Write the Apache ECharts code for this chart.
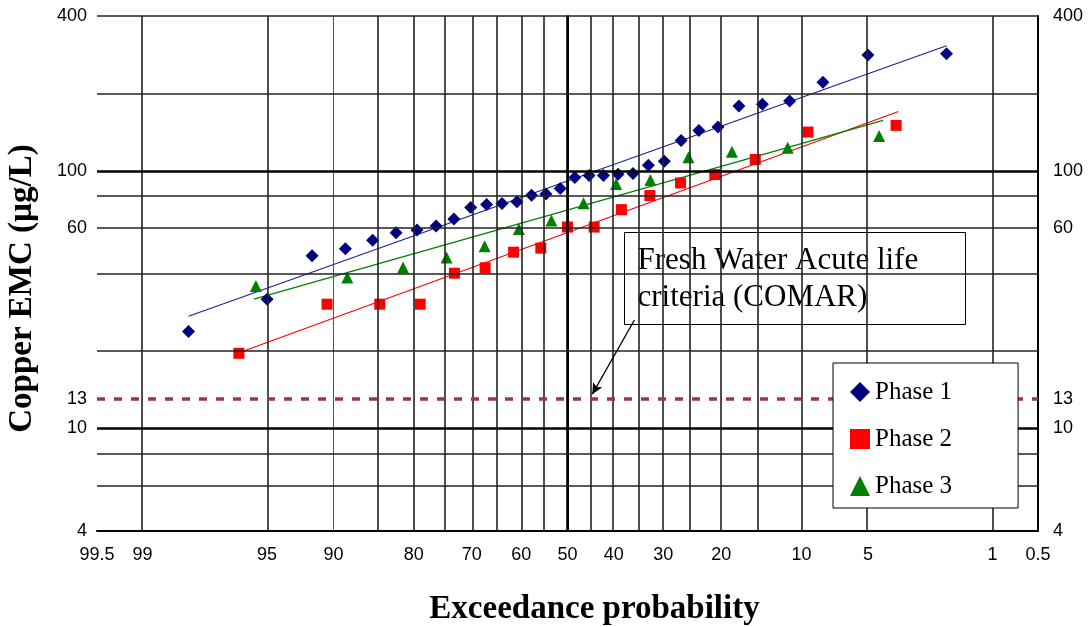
<!DOCTYPE html>
<html>
<head>
<meta charset="utf-8">
<script src="https://cdn.jsdelivr.net/npm/echarts@6/dist/echarts.min.js"></script>
<style>
html, body { margin: 0; padding: 0; background: #fff; }
#chart { width: 1090px; height: 627px; }
</style>
</head>
<body>
<div id="chart"></div>
<script>
// Exceedance probability (%) and copper EMC (µg/L) for each monitoring phase
const phase1Exceed = [98.1, 95.0, 91.9, 88.8, 85.7, 82.6, 79.5, 76.4, 73.3, 70.2, 67.1, 64.0, 60.9, 57.8, 54.7, 51.6,
                      48.4, 45.3, 42.2, 39.1, 36.0, 32.9, 29.8, 26.7, 23.6, 20.5, 17.4, 14.3, 11.2, 8.1, 5.0, 1.9];
const phase1Copper = [23.8, 31.8, 46.9, 49.9, 53.9, 57.6, 59.0, 61.1, 65.1, 72.1, 74.2, 74.8, 75.9, 80.5, 81.5, 85.5,
                      94.3, 96.0, 96.0, 97.2, 97.8, 105.2, 109.1, 131.3, 143.8, 148.2, 178.9, 181.6, 187.1, 221.3, 282.0, 285.4];

const phase2Exceed = [96.4, 90.6, 84.8, 79.0, 73.2, 67.4, 61.6, 55.8, 50.0, 44.2, 38.4, 32.6, 26.8, 21.0, 15.2, 9.4, 3.6];
const phase2Copper = [19.6, 30.4, 30.4, 30.4, 40.1, 42.1, 48.4, 50.2, 60.6, 60.6, 70.8, 80.3, 89.9, 96.9, 110.9, 141.7, 150.4];

const phase3Exceed = [95.6, 88.6, 81.6, 74.6, 67.5, 60.5, 53.5, 46.5, 39.5, 32.5, 25.4, 18.4, 11.4, 4.4];
const phase3Copper = [35.8, 38.6, 42.2, 46.2, 51.0, 59.6, 64.2, 75.0, 89.0, 92.2, 113.1, 118.9, 123.2, 136.7];

// Fitted log-normal lines (end points)
const phase1FitExceed = [98.1, 1.9];
const phase1FitCopper = [27.3, 306.6];
const phase2FitExceed = [96.4, 3.5];
const phase2FitCopper = [19.7, 170.2];
const phase3FitExceed = [95.7, 4.2];
const phase3FitCopper = [31.8, 157.3];

// Fresh water acute life criterion (µg/L)
const criteria = 13;

// Axis ticks and grid
const xTickLabels = ['99.5', '99', '95', '90', '80', '70', '60', '50', '40', '30', '20', '10', '5', '1', '0.5'];
const xGridPct = [99, 95, 85, 80, 75, 70, 65, 60, 55, 45, 40, 35, 30, 25, 20, 15, 10, 5, 1];
const xThinGridPct = [90];
const xBoldGridPct = [50];
const yTickLabels = [4, 10, 13, 60, 100, 400];
const yGridValues = [400, 200, 80, 60, 40, 20, 8, 6];
const yBoldGridValues = [100, 10];

// Inverse of the standard normal CDF (Acklam's rational approximation)
function probit(p) {
  const a = [-3.969683028665376e+01, 2.209460984245205e+02, -2.759285104469687e+02, 1.383577518672690e+02, -3.066479806614716e+01, 2.506628277459239e+00];
  const b = [-5.447609879822406e+01, 1.615858368580409e+02, -1.556989798598866e+02, 6.680131188771972e+01, -1.328068155288572e+01];
  const c = [-7.784894002430293e-03, -3.223964580411365e-01, -2.400758277161838e+00, -2.549732539343734e+00, 4.374664141464968e+00, 2.938163982698783e+00];
  const d = [7.784695709041462e-03, 3.224671290700398e-01, 2.445134137142996e+00, 3.754408661907416e+00];
  const pl = 0.02425, ph = 1 - pl;
  let q, r;
  if (p < pl) {
    q = Math.sqrt(-2 * Math.log(p));
    return (((((c[0] * q + c[1]) * q + c[2]) * q + c[3]) * q + c[4]) * q + c[5]) / ((((d[0] * q + d[1]) * q + d[2]) * q + d[3]) * q + 1);
  }
  if (p <= ph) {
    q = p - 0.5; r = q * q;
    return (((((a[0] * r + a[1]) * r + a[2]) * r + a[3]) * r + a[4]) * r + a[5]) * q / (((((b[0] * r + b[1]) * r + b[2]) * r + b[3]) * r + b[4]) * r + 1);
  }
  q = Math.sqrt(-2 * Math.log(1 - p));
  return -(((((c[0] * q + c[1]) * q + c[2]) * q + c[3]) * q + c[4]) * q + c[5]) / ((((d[0] * q + d[1]) * q + d[2]) * q + d[3]) * q + 1);
}
// Position on the normal-probability axis for an exceedance percentage
const toZ = e => probit(1 - e / 100);

const xTickZ = xTickLabels.map(s => toZ(parseFloat(s)));
const zMin = xTickZ[0];
const zMax = xTickZ[xTickZ.length - 1];

const pairs = (xs, ys) => xs.map((e, i) => [toZ(e), ys[i]]);

const gridLine = { color: '#222', width: 1.6, type: 'solid' };
const gridMarks = []
  .concat(xGridPct.map(p => ({ xAxis: toZ(p), lineStyle: gridLine })))
  .concat(xThinGridPct.map(p => ({ xAxis: toZ(p), lineStyle: { color: '#555', width: 1, type: 'solid' } })))
  .concat(xBoldGridPct.map(p => ({ xAxis: toZ(p), lineStyle: { color: '#000', width: 2.6, type: 'solid' } })))
  .concat(yGridValues.map(v => ({ yAxis: v, lineStyle: gridLine })))
  .concat(yBoldGridValues.map(v => ({ yAxis: v, lineStyle: { color: '#000', width: 2.6, type: 'solid' } })));

const tickFont = { fontFamily: 'Liberation Sans', fontSize: 18, color: '#000' };
const titleFont = { fontFamily: 'Liberation Serif', fontWeight: 'bold', fontSize: 33, color: '#000' };

const yAxisBase = {
  type: 'log', logBase: 10, min: 4, max: 400,
  axisLine: { show: true, lineStyle: { color: '#000', width: 2 } },
  axisTick: { show: false },
  splitLine: { show: false },
  minorTick: { show: false }
};

const chart = echarts.init(document.getElementById('chart'), null, { renderer: 'canvas' });

chart.setOption({
  animation: false,
  backgroundColor: '#fff',
  grid: { left: 97, right: 52, top: 16, bottom: 96, containLabel: false, outerBoundsMode: 'none' },
  xAxis: {
    type: 'value', min: zMin, max: zMax,
    axisLine: { show: true, onZero: false, lineStyle: { color: '#000', width: 2 } },
    axisTick: { show: false },
    splitLine: { show: false },
    axisLabel: Object.assign({
      customValues: xTickZ,
      margin: 15,
      formatter: v => {
        let best = 0;
        xTickZ.forEach((z, i) => { if (Math.abs(z - v) < Math.abs(xTickZ[best] - v)) best = i; });
        return xTickLabels[best];
      }
    }, tickFont),
    name: 'Exceedance probability',
    nameLocation: 'middle',
    nameGap: 62,
    nameTextStyle: Object.assign({ padding: [0, 0, 0, 54] }, titleFont)
  },
  yAxis: [
    Object.assign({}, yAxisBase, {
      position: 'left',
      axisLabel: Object.assign({ customValues: yTickLabels, margin: 10 }, tickFont),
      name: 'Copper EMC (µg/L)',
      nameLocation: 'middle',
      nameGap: 58,
      nameTextStyle: Object.assign({ padding: [0, 30, 0, 0] }, titleFont)
    }),
    Object.assign({}, yAxisBase, {
      position: 'right',
      axisLabel: Object.assign({ customValues: yTickLabels, margin: 15 }, tickFont)
    })
  ],
  legend: {
    data: ['Phase 1', 'Phase 2', 'Phase 3'],
    orient: 'vertical',
    left: 833, top: 363,
    padding: [16, 66, 9, 17],
    itemGap: 21,
    itemWidth: 20, itemHeight: 20,
    backgroundColor: '#fff',
    borderColor: '#000', borderWidth: 1, borderRadius: 0,
    textStyle: { fontFamily: 'Liberation Serif', fontSize: 25, color: '#000', lineHeight: 26 },
    selectedMode: false,
    z: 6
  },
  graphic: [{
    type: 'group', left: 624, top: 232, z: 20,
    children: [
      { type: 'rect', shape: { x: 0, y: 0, width: 341, height: 92 },
        style: { fill: '#fff', stroke: '#000', lineWidth: 1 } },
      { type: 'text', x: 13, y: 10,
        style: { text: 'Fresh Water Acute life\ncriteria (COMAR)', fill: '#000',
                 font: '31px "Liberation Serif"', lineHeight: 37 } }
    ]
  }],
  series: [
    {
      name: 'grid', type: 'line', data: [], z: 1, silent: true,
      markLine: { symbol: 'none', silent: true, label: { show: false }, animation: false, data: gridMarks }
    },
    {
      name: 'criteria', type: 'line', data: [], z: 2, silent: true,
      markLine: {
        symbol: 'none', silent: true, label: { show: false }, animation: false,
        data: [
          { yAxis: criteria, lineStyle: { color: '#993366', width: 3.5, type: [8, 9] } },
          [
            { coord: [toZ(35.7), 26.4], symbol: 'none', lineStyle: { color: '#000', width: 1.3, type: 'solid' } },
            { coord: [toZ(44.6), 13.6], symbol: 'arrow', symbolSize: [8, 11] }
          ]
        ]
      }
    },
    {
      name: 'Phase 1 fit', type: 'line', data: pairs(phase1FitExceed, phase1FitCopper), z: 3,
      symbol: 'none', lineStyle: { color: '#1f1f99', width: 1.2 }
    },
    {
      name: 'Phase 2 fit', type: 'line', data: pairs(phase2FitExceed, phase2FitCopper), z: 3,
      symbol: 'none', lineStyle: { color: '#ff0000', width: 1.2 }
    },
    {
      name: 'Phase 3 fit', type: 'line', data: pairs(phase3FitExceed, phase3FitCopper), z: 3,
      symbol: 'none', lineStyle: { color: '#008000', width: 1.2 }
    },
    {
      name: 'Phase 1', type: 'scatter', data: pairs(phase1Exceed, phase1Copper), z: 4,
      symbol: 'diamond', symbolSize: 13, itemStyle: { color: '#000080', opacity: 1 }
    },
    {
      name: 'Phase 2', type: 'scatter', data: pairs(phase2Exceed, phase2Copper), z: 4,
      symbol: 'rect', symbolSize: 11, itemStyle: { color: '#ff0000', opacity: 1 }
    },
    {
      name: 'Phase 3', type: 'scatter', data: pairs(phase3Exceed, phase3Copper), z: 4,
      symbol: 'triangle', symbolSize: 12, itemStyle: { color: '#008000', opacity: 1 }
    }
  ]
});
</script>
</body>
</html>
